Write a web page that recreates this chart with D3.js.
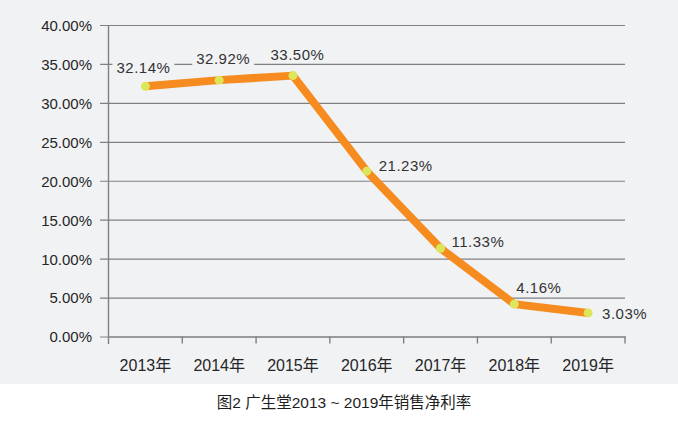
<!DOCTYPE html>
<html><head><meta charset="utf-8">
<script src="https://cdn.jsdelivr.net/npm/d3@7"></script>
<style>body{margin:0;background:#fff}svg{display:block}</style>
</head><body>
<svg id="c" width="678" height="425"></svg>
<script>
const years = ["2013年","2014年","2015年","2016年","2017年","2018年","2019年"];
const values = [32.14, 32.92, 33.50, 21.23, 11.33, 4.16, 3.03];
const valueLabels = ["32.14%","32.92%","33.50%","21.23%","11.33%","4.16%","3.03%"];
const yTicks = [0,5,10,15,20,25,30,35,40];
const title = "图2 广生堂2013 ~ 2019年销售净利率";

const font = "'Liberation Sans','Noto Sans CJK SC',Arial,sans-serif";
const bg = "#f1f2f4";
const svg = d3.select("#c");
svg.append("rect").attr("x",0).attr("y",0).attr("width",678).attr("height",384).attr("fill",bg);

const x = d3.scaleBand().domain(years).range([108.5,625]);
const y = d3.scaleLinear().domain([0,40]).range([336.5,25]);

// gridlines + y labels
const yAxis = d3.axisLeft(y).tickValues(yTicks).tickSize(-(625-100)).tickSizeOuter(0)
  .tickFormat(d => d.toFixed(2)+"%");
const gy = svg.append("g").attr("transform","translate(100,0)").call(yAxis);
gy.select(".domain").remove();
gy.selectAll(".tick line").attr("stroke","#808080").attr("stroke-width",1.2);
gy.selectAll(".tick text").attr("x",-8).attr("dy","0.36em").attr("fill","#262626")
  .style("font-family",font).style("font-size","15px");

// y axis vertical line
svg.append("line").attr("x1",108.5).attr("x2",108.5).attr("y1",y(40)).attr("y2",344)
  .attr("stroke","#808080").attr("stroke-width",1.4);

// x axis
const xAxis = d3.axisBottom(x).tickSize(0).tickSizeOuter(0);
const gx = svg.append("g").attr("transform",`translate(0,${y(0)})`).call(xAxis);
gx.select(".domain").attr("stroke","#9a9a9a").attr("stroke-width",2.2);
gx.selectAll(".tick text").attr("y",0).attr("dy","34px").attr("fill","#262626")
  .style("font-family",font).style("font-size","16px");
// tick marks at band boundaries
const bounds = years.slice(1).map(d => x(d)).concat([625]);
svg.append("g").selectAll("line").data(bounds).join("line")
  .attr("x1",d=>d).attr("x2",d=>d).attr("y1",y(0)).attr("y2",y(0)+7)
  .attr("stroke","#808080").attr("stroke-width",1.4);

// line
const cx = d => x(d) + x.bandwidth()/2;
const line = d3.line().x((d,i)=>cx(years[i])).y(d=>y(d));
svg.append("path").datum(values).attr("d",line).attr("fill","none")
  .attr("stroke","#f68b1f").attr("stroke-width",8).attr("stroke-linejoin","round");
svg.append("g").selectAll("circle").data(values).join("circle")
  .attr("cx",(d,i)=>cx(years[i])).attr("cy",d=>y(d)).attr("r",4.5).attr("fill","#dde65a");

// data labels: offsets [dx, dy(baseline relative to point), anchor]
const off = [[-2,-13.5,"middle"],[4,-16,"middle"],[4.5,-16,"middle"],[12,0,"start"],[11,-1,"start"],[2,-11,"start"],[14,6,"start"]];
const lg = svg.append("g");
values.forEach((v,i)=>{
  const px = cx(years[i]) + off[i][0], py = y(v) + off[i][1];
  const t = lg.append("text").attr("x",px).attr("y",py).attr("text-anchor",off[i][2])
    .attr("fill","#333").style("font-family",font).style("font-size","15px")
    .style("letter-spacing","0.5px").text(valueLabels[i]);
  const bb = t.node().getBBox();
  lg.insert("rect","text").attr("x",bb.x-4).attr("y",bb.y+1).attr("width",bb.width+8)
    .attr("height",bb.height-2).attr("fill",bg);
});

svg.append("text").attr("x",344).attr("y",408).attr("text-anchor","middle")
  .attr("fill","#1e1e1e").style("font-family",font).style("font-size","15.5px").text(title);
</script>
</body></html>
